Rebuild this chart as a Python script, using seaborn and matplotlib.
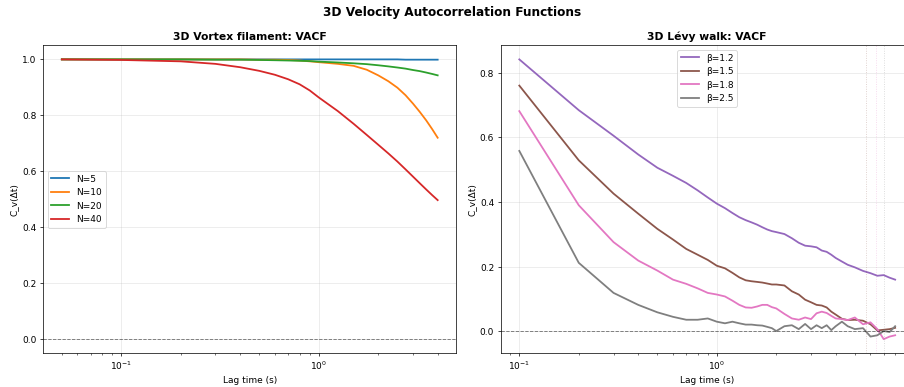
import numpy as np
import pandas as pd
import matplotlib
matplotlib.use("Agg")
import matplotlib.pyplot as plt
import seaborn as sns

# left panel: vortex filament VACF
lags_vortex = [0.05, 0.1, 0.2, 0.3, 0.4, 0.5, 0.6, 0.7, 0.8, 0.9, 1.0,
               1.25, 1.5, 1.75, 2.0, 2.25, 2.5, 2.75, 3.0, 3.25, 3.5, 3.75, 4.0]
vacf_n5 = [1.0, 1.0, 1.0, 1.0, 1.0, 1.0, 1.0, 1.0, 1.0, 1.0, 1.0,
           1.0, 1.0, 1.0, 1.0, 1.0, 1.0, 0.999, 0.999, 0.999, 0.999, 0.999, 0.999]
vacf_n10 = [1.0, 1.0, 1.0, 1.0, 1.0, 0.999, 0.999, 0.998, 0.996, 0.993, 0.99,
            0.984, 0.977, 0.963, 0.943, 0.922, 0.899, 0.872, 0.842, 0.812, 0.782, 0.751, 0.72]
vacf_n20 = [1.0, 1.0, 1.0, 0.999, 0.999, 0.998, 0.997, 0.996, 0.995, 0.994, 0.992,
            0.989, 0.986, 0.983, 0.979, 0.975, 0.971, 0.967, 0.962, 0.958, 0.953, 0.948, 0.943]
vacf_n40 = [1.0, 0.998, 0.993, 0.984, 0.972, 0.959, 0.945, 0.929, 0.911, 0.889, 0.864,
            0.815, 0.770, 0.730, 0.695, 0.664, 0.635, 0.607, 0.581, 0.557, 0.535, 0.515, 0.497]
vortex_labels = ["N=5", "N=10", "N=20", "N=40"]

# right panel: Levy walk VACF
lags_levy = [0.1, 0.2, 0.3, 0.4, 0.5, 0.6, 0.7, 0.8, 0.9, 1.0,
             1.1, 1.2, 1.3, 1.4, 1.5, 1.6, 1.7, 1.8, 1.9, 2.0,
             2.2, 2.4, 2.6, 2.8, 3.0, 3.2, 3.4, 3.6, 3.8, 4.0,
             4.3, 4.6, 5.0, 5.5, 6.0, 6.5, 7.0, 7.5, 8.0]
vacf_b12 = [0.841, 0.684, 0.605, 0.547, 0.506, 0.481, 0.459, 0.436, 0.414, 0.395,
            0.381, 0.366, 0.353, 0.344, 0.337, 0.330, 0.322, 0.315, 0.310, 0.307,
            0.301, 0.288, 0.274, 0.265, 0.263, 0.260, 0.250, 0.246, 0.237, 0.227,
            0.216, 0.206, 0.198, 0.187, 0.180, 0.172, 0.174, 0.166, 0.160]
vacf_b15 = [0.760, 0.529, 0.426, 0.364, 0.317, 0.284, 0.255, 0.237, 0.221, 0.203,
            0.195, 0.181, 0.167, 0.158, 0.155, 0.153, 0.151, 0.148, 0.145, 0.145,
            0.142, 0.124, 0.114, 0.098, 0.090, 0.082, 0.080, 0.074, 0.061, 0.052,
            0.039, 0.035, 0.036, 0.033, 0.022, 0.003, 0.005, 0.007, 0.011]
vacf_b18 = [0.681, 0.390, 0.276, 0.219, 0.188, 0.160, 0.147, 0.133, 0.119, 0.114,
            0.108, 0.095, 0.082, 0.074, 0.073, 0.077, 0.082, 0.082, 0.075, 0.071,
            0.054, 0.040, 0.036, 0.043, 0.038, 0.056, 0.061, 0.057, 0.048, 0.040,
            0.038, 0.035, 0.043, 0.022, 0.028, 0.007, -0.024, -0.016, -0.012]
vacf_b25 = [0.558, 0.212, 0.119, 0.082, 0.059, 0.045, 0.036, 0.036, 0.040, 0.030,
            0.025, 0.030, 0.025, 0.021, 0.021, 0.019, 0.018, 0.014, 0.010, 0.001,
            0.016, 0.019, 0.007, 0.023, 0.007, 0.019, 0.010, 0.019, 0.004, 0.016,
            0.030, 0.016, 0.007, 0.010, -0.016, -0.012, 0.001, -0.002, 0.016]
levy_labels = ["β=1.2", "β=1.5", "β=1.8", "β=2.5"]
# faint markers on the right panel
marker_lags = [5.7, 6.4, 7.05]

vortex_colors = ["tab:blue", "tab:orange", "tab:green", "tab:red"]
levy_colors = ["tab:purple", "tab:brown", "tab:pink", "tab:gray"]

fig, axes = plt.subplots(1, 2, figsize=(14, 6), dpi=904 / 14)
fig.subplots_adjust(left=0.0476, right=1.011, top=0.8817, bottom=0.0874, wspace=0.1066)

ax = axes[0]
for vals, lab, col in zip([vacf_n5, vacf_n10, vacf_n20, vacf_n40], vortex_labels, vortex_colors):
    df = pd.DataFrame({"lag": lags_vortex, "C": vals})
    sns.lineplot(data=df, x="lag", y="C", ax=ax, label=lab, color=col, linewidth=2)
ax.axhline(0, color="k", linestyle="--", alpha=0.5, linewidth=1)
ax.set_xscale("log")
ax.set_xlabel("Lag time (s)")
ax.set_ylabel("C_v(Δt)")
ax.set_title("3D Vortex filament: VACF", fontweight="bold", fontsize=12)
ax.grid(True, alpha=0.3)
ax.legend(loc="center left")

ax = axes[1]
for vals, lab, col in zip([vacf_b12, vacf_b15, vacf_b18, vacf_b25], levy_labels, levy_colors):
    df = pd.DataFrame({"lag": lags_levy, "C": vals})
    sns.lineplot(data=df, x="lag", y="C", ax=ax, label=lab, color=col, linewidth=2)
for xm, col in zip(marker_lags, levy_colors[1:]):
    ax.axvline(xm, color=col, linestyle=":", alpha=0.3, linewidth=1)
ax.axhline(0, color="k", linestyle="--", alpha=0.5, linewidth=1)
ax.set_xscale("log")
ax.set_xlabel("Lag time (s)")
ax.set_ylabel("C_v(Δt)")
ax.set_title("3D Lévy walk: VACF", fontweight="bold", fontsize=12)
ax.grid(True, alpha=0.3)
ax.legend(loc="upper center")

fig.suptitle("3D Velocity Autocorrelation Functions", fontweight="bold", fontsize=13.5, y=0.967, va="center")
fig.savefig("out.png", dpi=904 / 14)
